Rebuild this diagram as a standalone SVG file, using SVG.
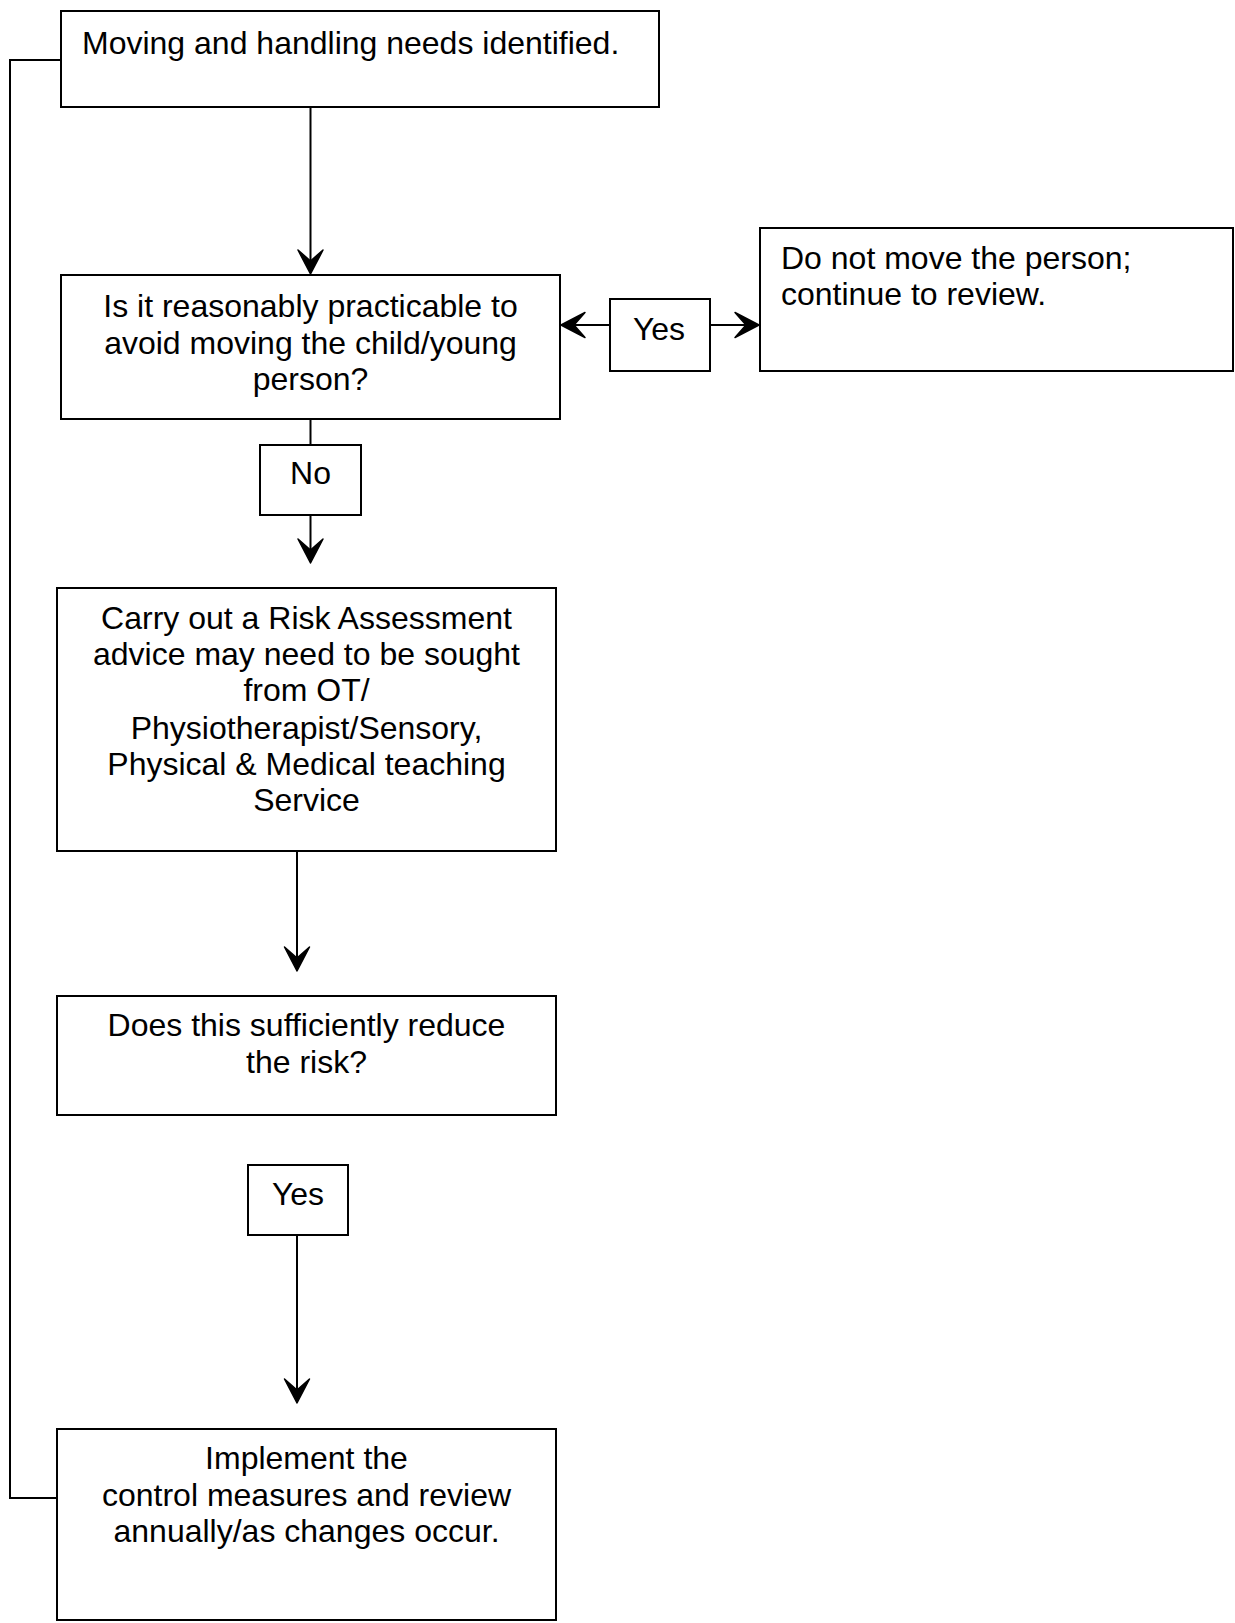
<svg xmlns="http://www.w3.org/2000/svg" width="1235" height="1623" viewBox="0 0 1235 1623">
<style>
.box{fill:#fff;stroke:#000;stroke-width:2}
.t{font-family:"Liberation Sans",Arial,sans-serif;font-size:32px;fill:#000}
.c{text-anchor:middle}
.ln{fill:none;stroke:#000;stroke-width:2}
.hd{fill:#000;stroke:#000;stroke-width:1.5;stroke-linejoin:round}
</style>
<g id="connectors">
<path class="ln" d="M61,60 H10 V1498 H57"/>
<line class="ln" x1="310.5" y1="107" x2="310.5" y2="265"/>
<line class="ln" x1="610" y1="325" x2="570" y2="325"/>
<line class="ln" x1="710" y1="325" x2="750" y2="325"/>
<line class="ln" x1="310.5" y1="419" x2="310.5" y2="445"/>
<line class="ln" x1="310.5" y1="515" x2="310.5" y2="554"/>
<line class="ln" x1="297" y1="851" x2="297" y2="962"/>
<line class="ln" x1="297" y1="1235" x2="297" y2="1394"/>
<path class="hd" d="M310.5,274 L298,250 L310.5,261 L323,250 Z"/>
<path class="hd" d="M561,325 L585,312.5 L574,325 L585,337.5 Z"/>
<path class="hd" d="M759,325 L735,312.5 L746,325 L735,337.5 Z"/>
<path class="hd" d="M310.5,563 L298,539 L310.5,550 L323,539 Z"/>
<path class="hd" d="M297,971 L284.5,947 L297,958 L309.5,947 Z"/>
<path class="hd" d="M297,1403 L284.5,1379 L297,1390 L309.5,1379 Z"/>
</g>
<g id="n1">
<rect class="box" x="61" y="11" width="598" height="96"/>
<text class="t" x="82" y="54">Moving and handling needs identified.</text>
</g>
<g id="n2">
<rect class="box" x="61" y="275" width="499" height="144"/>
<text class="t c" x="310.5" y="317">Is it reasonably practicable to</text>
<text class="t c" x="310.5" y="354">avoid moving the child/young</text>
<text class="t c" x="310.5" y="390">person?</text>
</g>
<g id="yes1">
<rect class="box" x="610" y="299" width="100" height="72"/>
<text class="t c" x="659" y="340">Yes</text>
</g>
<g id="n3">
<rect class="box" x="760" y="228" width="473" height="143"/>
<text class="t" x="781" y="269">Do not move the person;</text>
<text class="t" x="781" y="305">continue to review.</text>
</g>
<g id="no1">
<rect class="box" x="260" y="445" width="101" height="70"/>
<text class="t c" x="310.5" y="484">No</text>
</g>
<g id="n4">
<rect class="box" x="57" y="588" width="499" height="263"/>
<text class="t c" x="306.5" y="629">Carry out a Risk Assessment</text>
<text class="t c" x="306.5" y="665">advice may need to be sought</text>
<text class="t c" x="306.5" y="701">from OT/</text>
<text class="t c" x="306.5" y="739">Physiotherapist/Sensory,</text>
<text class="t c" x="306.5" y="775">Physical &amp; Medical teaching</text>
<text class="t c" x="306.5" y="811">Service</text>
</g>
<g id="n5">
<rect class="box" x="57" y="996" width="499" height="119"/>
<text class="t c" x="306.5" y="1036">Does this sufficiently reduce</text>
<text class="t c" x="306.5" y="1073">the risk?</text>
</g>
<g id="yes2">
<rect class="box" x="248" y="1165" width="100" height="70"/>
<text class="t c" x="298" y="1205">Yes</text>
</g>
<g id="n6">
<rect class="box" x="57" y="1429" width="499" height="191"/>
<text class="t c" x="306.5" y="1469">Implement the</text>
<text class="t c" x="306.5" y="1506">control measures and review</text>
<text class="t c" x="306.5" y="1542">annually/as changes occur.</text>
</g>
</svg>
